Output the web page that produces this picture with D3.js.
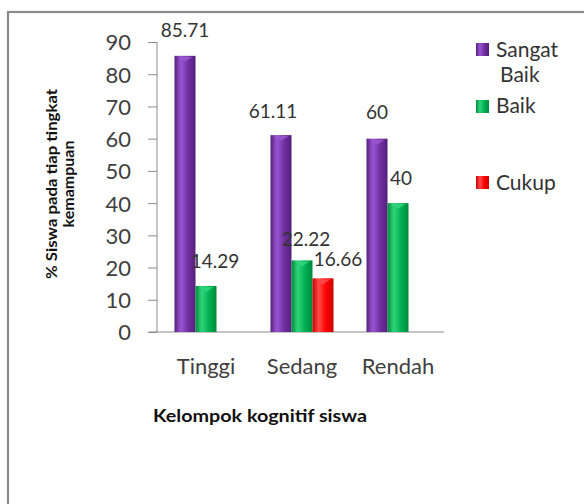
<!DOCTYPE html>
<html><head><meta charset="utf-8">
<script src="https://cdn.jsdelivr.net/npm/d3@7"></script>
<style>
html,body{margin:0;padding:0;background:#fff;}
svg{display:block;}
text{font-family:Lato,"Open Sans",sans-serif;}
</style></head>
<body>
<svg id="chart" width="584" height="504"></svg>
<script>
const categories = ["Tinggi", "Sedang", "Rendah"];
const seriesNames = ["Sangat Baik", "Baik", "Cukup"];
const sangatBaik = [85.71, 61.11, 60];
const baik = [14.29, 22.22, 40];
const cukup = [null, 16.66, null];
const yTicks = [0, 10, 20, 30, 40, 50, 60, 70, 80, 90];
const labelText = [["85.71", "61.11", "60"], ["14.29", "22.22", "40"], [null, "16.66", null]];

const seriesValues = [sangatBaik, baik, cukup];
const colors = [
  {base: "#7030a0", light: "#9a55d2", dark: "#55207e"},
  {base: "#00b050", light: "#30d47a", dark: "#008a3a"},
  {base: "#ff0000", light: "#ff4a4a", dark: "#c80000"}
];
// label nudges (style only)
const labelDx = [[0, -8, 0], [9, 4, 3], [0, 15, 0]];
const labelDy = [[-19, -17, -20], [-18, -14, -18], [0, -12, 0]];

const svg = d3.select("#chart");
const defs = svg.append("defs");
colors.forEach((c, i) => {
  const g = defs.append("linearGradient").attr("id", "grad" + i)
    .attr("x1", "0%").attr("x2", "100%").attr("y1", "0%").attr("y2", "0%");
  g.append("stop").attr("offset", "0%").attr("stop-color", c.dark);
  g.append("stop").attr("offset", "30%").attr("stop-color", c.light);
  g.append("stop").attr("offset", "65%").attr("stop-color", c.base);
  g.append("stop").attr("offset", "100%").attr("stop-color", c.dark);
});

// outer frame
svg.append("rect").attr("x", 8).attr("y", 12).attr("width", 640).attr("height", 600)
  .attr("fill", "#fff").attr("stroke", "#8a8a8a").attr("stroke-width", 2.2);

const x0 = d3.scaleBand().domain(categories).range([158, 446]);
const x1 = d3.scaleBand().domain(d3.range(3)).range([0, 63]);
const y = d3.scaleLinear().domain([0, 90]).range([332, 42]);

// y axis
const yAxis = svg.append("g").attr("transform", "translate(157,0)")
  .call(d3.axisLeft(y).tickValues(yTicks).tickSize(9).tickPadding(17).tickFormat(d3.format("d")));
yAxis.select(".domain").attr("stroke", "#8c8c8c").attr("d", `M0,${y(90)}V${y(0)}`);
yAxis.selectAll(".tick line").attr("stroke", "#8c8c8c");
yAxis.selectAll(".tick text").attr("fill", "#404040").style("font-size", "22px")
  .style("font-family", "Lato, 'Open Sans', sans-serif").attr("dy", "0.36em");

// x axis
const xAxis = svg.append("g").attr("transform", `translate(0,${y(0)})`)
  .call(d3.axisBottom(x0).tickSize(0).tickPadding(26));
xAxis.select(".domain").attr("stroke", "#8c8c8c").attr("d", "M149,0H444");
xAxis.selectAll(".tick text").attr("fill", "#404040").style("font-size", "22px")
  .style("font-family", "Lato, 'Open Sans', sans-serif");

// bars
const groups = svg.append("g").selectAll("g").data(categories).join("g")
  .attr("transform", d => `translate(${x0(d) + x0.bandwidth() / 2 - 31.5},0)`);

seriesValues.forEach((vals, si) => {
  groups.each(function(cat, ci) {
    const v = vals[ci];
    if (v == null) return;
    const g = d3.select(this);
    const bx = x1(si), bw = x1.bandwidth();
    g.append("rect").attr("x", bx).attr("y", y(v)).attr("width", bw)
      .attr("height", y(0) - y(v)).attr("fill", `url(#grad${si})`);
    // top cap highlight
    g.append("path")
      .attr("d", `M${bx + 3},${y(v) + 1}L${bx + bw - 3},${y(v) + 1}L${bx + bw / 2},${y(v) + 6}Z`)
      .attr("fill", colors[si].light).attr("opacity", 0.9);
    const lt = labelText[si][ci];
    if (lt) {
      svg.append("text")
        .attr("x", x0(cat) + x0.bandwidth() / 2 - 31.5 + bx + bw / 2 + labelDx[si][ci])
        .attr("y", y(v) + labelDy[si][ci])
        .attr("text-anchor", "middle").attr("fill", "#333").style("font-size", "19px")
        .text(lt);
    }
  });
});

// axis titles
svg.append("text").attr("x", 260).attr("y", 422).attr("text-anchor", "middle")
  .attr("fill", "#111").style("font-size", "16.5px").style("font-weight", "bold")
  .attr("textLength", 214).attr("lengthAdjust", "spacingAndGlyphs")
  .text("Kelompok kognitif siswa");

const yt = svg.append("g").attr("transform", "translate(0,184) rotate(-90)");
yt.append("text").attr("x", 0).attr("y", 57).attr("text-anchor", "middle").attr("fill", "#111")
  .style("font-size", "16px").style("font-weight", "bold")
  .attr("textLength", 190).attr("lengthAdjust", "spacingAndGlyphs")
  .text("% Siswa pada tiap tingkat");
yt.append("text").attr("x", 0).attr("y", 74).attr("text-anchor", "middle").attr("fill", "#111")
  .style("font-size", "16px").style("font-weight", "bold")
  .text("kemampuan");

// legend
const legendItems = [
  {lines: ["Sangat", "Baik"], sy: 43, ty: 57},
  {lines: ["Baik"], sy: 100, ty: 113},
  {lines: ["Cukup"], sy: 176, ty: 190}
];
legendItems.forEach((li, i) => {
  svg.append("rect").attr("x", 476).attr("y", li.sy).attr("width", 13).attr("height", 13)
    .attr("fill", `url(#grad${i})`);
  const t = svg.append("text").attr("fill", "#333").style("font-size", "21px");
  li.lines.forEach((ln, k) => {
    t.append("tspan").attr("x", k === 0 ? 496 : 500).attr("y", li.ty + k * 25).text(ln);
  });
});
</script>
</body></html>
